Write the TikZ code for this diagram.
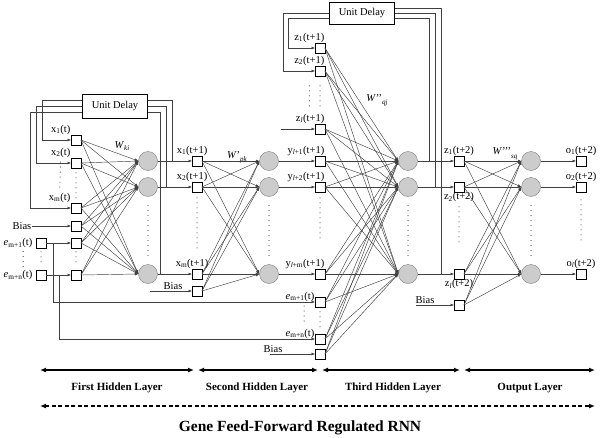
\documentclass[tikz,border=0pt]{standalone}
\usepackage{fontspec}
\setmainfont{Liberation Serif}
\usetikzlibrary{arrows.meta,calc}

\begin{document}
\begin{tikzpicture}[x=1pt,y=-1pt,
	sq/.style={draw,rectangle,minimum size=9.5pt,inner sep=0pt,fill=white},
	neuron/.style={circle,draw=gray,fill=gray!40,minimum size=19pt,inner sep=0pt},
	delay/.style={draw,minimum width=65pt,minimum height=24pt,font=\fontsize{10.5}{12}\selectfont},
	lab/.style={inner sep=0.5pt,font=\fontsize{10.5}{12}\selectfont},
	wire/.style={black!75,line width=0.45pt},
	arr/.style={-{Latex[length=3.5pt,width=3pt]}},
	dotcol/.style={line width=1pt,line cap=round,dash pattern=on 0pt off 5pt},
	band/.style={line width=1.6pt,{Latex[length=6pt,width=5pt]}-{Latex[length=6pt,width=5pt]}},
	layertxt/.style={font=\fontsize{11}{13}\selectfont\bfseries}]
			\useasboundingbox (0,0) rectangle (600,437);
			\node[delay] (d1) at (115,106) {Unit Delay};
			\node[delay,minimum height=22pt] (d2) at (362,13) {Unit Delay};

			\node[sq] (xt1) at (76,140) {};
			\node[sq] (xt2) at (76,163) {};
			\node[sq] (xtm) at (76,208) {};
			\node[sq] (b1) at (76,226) {};
			\node[sq] (e1) at (76,243) {};
			\node[sq] (en) at (76,275) {};
			\node[sq] (u1) at (41,243) {};
			\node[sq] (un) at (41,275) {};
			\node[sq] (b2) at (197,291) {};
			\node[sq] (zt1) at (320,48) {};
			\node[sq] (zt2) at (320,71) {};
			\node[sq] (ztl) at (320,129) {};
			\node[sq] (e3a) at (320,302) {};
			\node[sq] (e3b) at (320,339) {};
			\node[sq] (b3) at (320,354) {};
			\node[sq] (b4) at (459,305) {};
			\foreach \r/\y in {a/161,b/187,c/274} {
				\node[neuron] (n1\r) at (148,\y) {};
				\node[sq] (x\r) at (197,\y) {};
				\node[neuron] (n2\r) at (269,\y) {};
				\node[sq] (y\r) at (320,\y) {};
				\node[neuron] (n3\r) at (408,\y) {};
				\node[sq] (z\r) at (459,\y) {};
				\node[neuron] (n4\r) at (531,\y) {};
				\node[sq] (o\r) at (581,\y) {};
			}

			\node[lab,anchor=south east] (lx1) at (xt1.north west) {x\textsubscript{1}(t)};
			\node[lab,anchor=south east] (lx2) at (xt2.north west) {x\textsubscript{2}(t)};
			\node[lab,anchor=south east] (lxm) at (xtm.north west) {x\textsubscript{m}(t)};
			\node[lab,anchor=east] (le1) at ([xshift=-3pt]u1.west) {\textit{e}\textsubscript{m+1}(t)};
			\node[lab,anchor=east] (len) at ([xshift=-3pt]un.west) {\textit{e}\textsubscript{m+n}(t)};
			\node[lab,anchor=south] (lxa) at (xa.north west) {x\textsubscript{1}(t+1)};
			\node[lab,anchor=south] (lxb) at (xb.north west) {x\textsubscript{2}(t+1)};
			\node[lab,anchor=south] (lxc) at (xc.north west) {x\textsubscript{m}(t+1)};
			\node[lab,anchor=south east] (lz1) at (zt1.north east) {z\textsubscript{1}(t+1)};
			\node[lab,anchor=south east] (lz2) at (zt2.north east) {z\textsubscript{2}(t+1)};
			\node[lab,anchor=south east] (lzl) at (ztl.north east) {z\textsubscript{\textit{l}}(t+1)};
			\node[lab,anchor=south east] (lya) at (ya.north east) {y\textsubscript{\textit{l}+1}(t+1)};
			\node[lab,anchor=south east] (lyb) at (yb.north east) {y\textsubscript{\textit{l}+2}(t+1)};
			\node[lab,anchor=south east] (lyc) at (yc.north east) {y\textsubscript{\textit{l}+m}(t+1)};
			\node[lab,anchor=south east] (le3a) at (e3a.west) {\textit{e}\textsubscript{m+1}(t)};
			\node[lab,anchor=south east] (le3b) at (e3b.west) {\textit{e}\textsubscript{m+n}(t)};
			\node[lab,anchor=south] (lza) at (za.north) {z\textsubscript{1}(t+2)};
			\node[lab,anchor=north] (lzb) at (zb.south) {z\textsubscript{2}(t+2)};
			\node[lab,anchor=north] (lzc) at (zc.south) {z\textsubscript{\textit{l}}(t+2)};
			\node[lab,anchor=south] (loa) at (oa.north) {o\textsubscript{1}(t+2)};
			\node[lab,anchor=south] (lob) at (ob.north) {o\textsubscript{2}(t+2)};
			\node[lab,anchor=south] (loc) at (oc.north) {o\textsubscript{\textit{l}}(t+2)};
			\node[lab] (wk) at (122,146) {\textit{W}\raisebox{-2.5pt}{\scriptsize\textit{ki}}};
			\node[lab] (wp) at (237,157) {\textit{W}'\raisebox{-3pt}{\scriptsize\textit{pk}}};
			\node[lab] (wq) at (377,100) {\textit{W}'{}'\raisebox{-3pt}{\scriptsize\textit{qj}}};
			\node[lab] (ws) at (505,154) {\textit{W}'{}'{}'\raisebox{-4pt}{\scriptsize\textit{sq}}};

			\foreach \s in {xt1,xt2,xtm,b1,e1,en}
				\foreach \t in {n1a,n1b,n1c}
					\draw[wire,arr] (\s.east) -- (\t.west);
			\foreach \s in {xa,xb,xc,b2}
				\foreach \t in {n2a,n2b,n2c}
					\draw[wire,arr] (\s.east) -- (\t.west);
			\foreach \s in {zt1,zt2,ztl,ya,yb,yc,e3a,e3b,b3}
				\foreach \t in {n3a,n3b,n3c}
					\draw[wire,arr] (\s.east) -- (\t.west);
			\foreach \s in {za,zb,zc,b4}
				\foreach \t in {n4a,n4b,n4c}
					\draw[wire,arr] (\s.east) -- (\t.west);
			\foreach \r in {a,b,c} {
				\draw[wire,arr] (n1\r.east) -- (x\r.west);
				\draw[wire,arr] (n2\r.east) -- (y\r.west);
				\draw[wire,arr] (n3\r.east) -- (z\r.west);
				\draw[wire,arr] (n4\r.east) -- (o\r.west);
			}

			\coordinate (fa) at (172,161);
			\coordinate (fb) at (166,187);
			\coordinate (fc) at (160,274);
			\coordinate (ga) at (42,140);
			\coordinate (gb) at (36,163);
			\coordinate (gc) at (30,208);
			\draw[wire] (fa) |- ([yshift=6pt]d1.east);
			\draw[wire] (fb) |- (d1.east);
			\draw[wire] (fc) |- ([yshift=-6pt]d1.east);
			\draw[wire,arr] ([yshift=6pt]d1.west) -| (ga) -- (xt1.west);
			\draw[wire,arr] (d1.west) -| (gb) -- (xt2.west);
			\draw[wire,arr] ([yshift=-6pt]d1.west) -| (gc) -- (xtm.west);

			\coordinate (fza) at (429,161);
			\coordinate (fzb) at (435,187);
			\coordinate (fzc) at (441,274);
			\coordinate (gza) at (288,48);
			\coordinate (gzb) at (283,71);
			\draw[wire] (fza) |- ([yshift=-5pt]d2.east);
			\draw[wire] (fzb) |- (d2.east);
			\draw[wire] (fzc) |- ([yshift=5pt]d2.east);
			\draw[wire,arr] ([yshift=-5pt]d2.west) -| (gza) -- (zt1.west);
			\draw[wire,arr] (d2.west) -| (gzb) -- (zt2.west);

			\coordinate (ea) at (53,243);
			\coordinate (ea2) at (53,302);
			\coordinate (eb) at (59,275);
			\coordinate (eb2) at (59,339);
			\draw[wire,arr] (u1.east) -- (e1.west);
			\draw[wire,arr] (un.east) -- (en.west);
			\draw[wire,arr] (ea) -- (ea2) -- (e3a.west);
			\draw[wire,arr] (eb) -- (eb2) -- (e3b.west);

			\coordinate (bs1) at (32,226);
			\coordinate (bs2) at (150,291);
			\coordinate (bs3) at (270,354);
			\coordinate (bs4) at (416,305);
			\coordinate (zs) at (281,129);
			\draw[wire,arr] (bs1) -- (b1.west);
			\draw[wire,arr] (bs2) -- (b2.west);
			\draw[wire,arr] (bs3) -- (b3.west);
			\draw[wire,arr] (bs4) -- (b4.west);
			\draw[wire,arr] (zs) -- (ztl.west);
			\node[lab,anchor=east] (lb1) at (bs1) {Bias};
			\node[lab,anchor=south] (lb2) at (173,290) {Bias};
			\node[lab,anchor=south] (lb3) at (273,353) {Bias};
			\node[lab,anchor=south] (lb4) at (425,304) {Bias};

			\draw[dotcol,shorten <=5pt,shorten >=5pt] (xt2.south) -- (xtm.north);
			\draw[dotcol,shorten <=4pt,shorten >=3pt] (lx2.south) -- (lxm.north);
			\draw[dotcol,shorten <=4pt,shorten >=4pt] (u1.south) -- (un.north);
			\draw[dotcol,shorten <=4pt,shorten >=4pt] (e1.south) -- (en.north);
			\draw[dotcol,shorten <=3pt,shorten >=3pt] ([xshift=5pt]le1.south) -- ([xshift=5pt]len.north);
			\foreach \ly in {1,...,4}
				\draw[dotcol,shorten <=9pt,shorten >=7pt] (n\ly b.south) -- (n\ly c.north);
			\draw[dotcol,shorten <=6pt,shorten >=10pt] (xb.south) -- (xb.south |- lxc.north);
			\draw[dotcol,shorten <=10pt,shorten >=6pt] (zt2.south) -- (zt2.south |- lzl.north);
			\draw[dotcol,shorten <=10pt,shorten >=6pt] (lz2.center |- zt2.south) -- (lz2.center |- lzl.north);
			\draw[dotcol,shorten <=6pt,shorten >=16pt] (yb.south) -- (yb.south |- lyc.north);
			\draw[dotcol,shorten <=5pt,shorten >=6pt] (e3a.south) -- (e3b.north);
			\draw[dotcol,shorten <=4pt,shorten >=4pt] ([xshift=4pt]le3a.south) -- ([xshift=4pt]le3b.north);
			\draw[dotcol,shorten <=4pt,shorten >=26pt] (lzb.south) -- (zc.north);
			\draw[dotcol,shorten <=8pt,shorten >=16pt] (ob.south) -- (loc.north);

			\coordinate (l0) at (40,370);
			\coordinate (l1) at (194,370);
			\coordinate (l1b) at (198,370);
			\coordinate (l2) at (318,370);
			\coordinate (l2b) at (322,370);
			\coordinate (l3) at (460,370);
			\coordinate (l3b) at (464,370);
			\coordinate (l4) at (595,370);
			\draw[band] (l0) -- (l1);
			\draw[band] (l1b) -- (l2);
			\draw[band] (l2b) -- (l3);
			\draw[band] (l3b) -- (l4);
			\node[layertxt] (t1) at (117,388) {First Hidden Layer};
			\node[layertxt] (t2) at (257,388) {Second Hidden Layer};
			\node[layertxt] (t3) at (393,388) {Third Hidden Layer};
			\node[layertxt] (t4) at (530,388) {Output Layer};
			\coordinate (g0) at (40,406);
			\coordinate (g1) at (595,406);
			\draw[band,dash pattern=on 4pt off 2.5pt] (g0) -- (g1);
			\node[font=\fontsize{15.5}{18}\selectfont\bfseries] (ttl) at (300,428) {Gene Feed-Forward Regulated RNN};
		\end{tikzpicture}
\end{document}
